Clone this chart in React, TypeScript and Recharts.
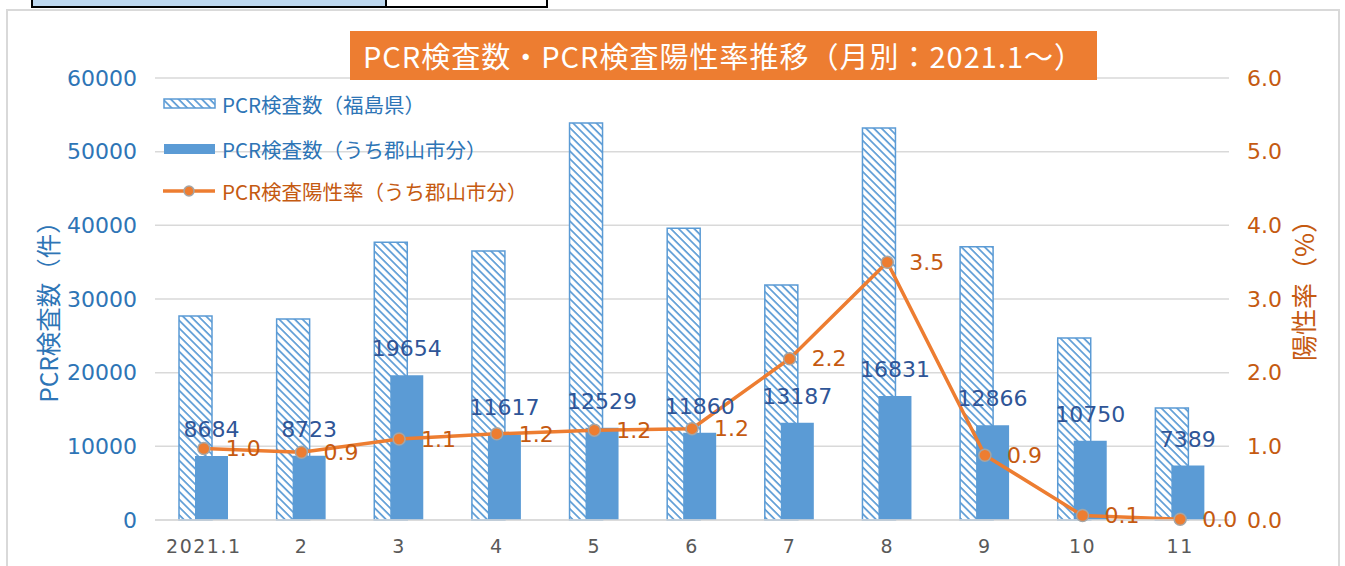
import {
  Bar,
  CartesianGrid,
  ComposedChart,
  LabelList,
  Line,
  XAxis,
  YAxis,
} from "recharts";

const months = ["2021.1", "2", "3", "4", "5", "6", "7", "8", "9", "10", "11"];
const prefTests = [27700, 27300, 37700, 36500, 53900, 39600, 31900, 53200, 37100, 24700, 15200];
const cityTests = [8684, 8723, 19654, 11617, 12529, 11860, 13187, 16831, 12866, 10750, 7389];
const positiveRate = [0.97, 0.92, 1.1, 1.17, 1.22, 1.24, 2.19, 3.5, 0.88, 0.06, 0.01];

const countTicks = [0, 10000, 20000, 30000, 40000, 50000, 60000];
const rateTicks = [0, 1, 2, 3, 4, 5, 6];

const chartData = months.map((m, i) => ({
  month: m,
  pref: prefTests[i],
  city: cityTests[i],
  rate: positiveRate[i],
}));

const BLUE = "#5b9bd5";
const ORANGE = "#ed7d31";
const FONT = '"Noto Sans CJK JP", "Noto Sans", sans-serif';
const NUM_FONT = '"DejaVu Sans", "Noto Sans CJK JP", sans-serif';

const App = () => {
  return (
    <div
      style={{
        position: "absolute",
        left: 0,
        top: 0,
        width: 1345,
        height: 566,
        overflow: "hidden",
        background: "#fff",
        fontFamily: FONT,
      }}
    >
      {/* cut-off box above the chart */}
      <div
        style={{
          position: "absolute",
          left: 31,
          top: -4,
          width: 513,
          height: 8,
          border: "2px solid #000",
          display: "flex",
        }}
      >
        <div style={{ width: 352, background: "#bdd7ee", borderRight: "2px solid #000" }} />
        <div style={{ flex: 1, background: "#fff" }} />
      </div>
      {/* chart frame */}
      <div
        style={{
          position: "absolute",
          left: 6,
          top: 9,
          width: 1330,
          height: 600,
          border: "2px solid #d9d9d9",
        }}
      />

      <ComposedChart
        width={1345}
        height={566}
        data={chartData}
        barGap={-17}
        margin={{ top: 78, right: 46, bottom: 0, left: 20 }}
        style={{ position: "absolute", left: 0, top: 0, fontFamily: NUM_FONT }}
      >
        <defs>
          <pattern
            id="hatch"
            patternUnits="userSpaceOnUse"
            width="5.5"
            height="5.5"
            patternTransform="rotate(45)"
          >
            <rect width="5.5" height="5.5" fill="#fff" />
            <rect width="5.5" height="1.7" fill={BLUE} />
          </pattern>
        </defs>
        <CartesianGrid
          yAxisId="left"
          vertical={false}
          stroke="#d9d9d9"
          strokeWidth={1.5}
        />
        <XAxis
          dataKey="month"
          height={46}
          tickLine={false}
          axisLine={{ stroke: "#d9d9d9", strokeWidth: 1.5 }}
          tickMargin={14}
          tick={{ fontSize: 19, fill: "#595959", letterSpacing: 1.5 }}
          interval={0}
        />
        <YAxis
          yAxisId="left"
          width={135}
          domain={[0, 60000]}
          ticks={countTicks}
          tickLine={false}
          axisLine={false}
          tickMargin={12}
          tick={{ fontSize: 22, fill: "#2e75b6" }}
        />
        <YAxis
          yAxisId="right"
          orientation="right"
          width={70}
          domain={[0, 6]}
          ticks={rateTicks}
          tickLine={false}
          axisLine={false}
          tickMargin={12}
          tickFormatter={(v: number) => v.toFixed(1)}
          tick={{ fontSize: 22, fill: "#c55a11" }}
        />
        <Bar
          yAxisId="left"
          dataKey="pref"
          barSize={33}
          fill="url(#hatch)"
          stroke={BLUE}
          strokeWidth={1.5}
          isAnimationActive={false}
        />
        <Bar
          yAxisId="left"
          dataKey="city"
          barSize={33}
          fill={BLUE}
          isAnimationActive={false}
        >
          <LabelList
            dataKey="city"
            position="top"
            offset={19}
            fill="#2f5597"
            fontSize={22}
          />
        </Bar>
        <Line
          yAxisId="right"
          dataKey="rate"
          stroke={ORANGE}
          strokeWidth={3.5}
          dot={{ r: 6, fill: ORANGE, stroke: "#a5a5a5", strokeWidth: 1.5 }}
          isAnimationActive={false}
        >
          <LabelList
            dataKey="rate"
            position="right"
            offset={22}
            fill="#c55a11"
            fontSize={22}
            formatter={(v: number) => v.toFixed(1)}
          />
        </Line>
      </ComposedChart>

      {/* axis titles */}
      <svg
        width={1345}
        height={566}
        style={{ position: "absolute", left: 0, top: 0, pointerEvents: "none" }}
      >
        <text
          x={47}
          y={306}
          transform="rotate(-90 47 306)"
          textAnchor="middle"
          dominantBaseline="central"
          fill="#2e75b6"
          fontSize={24.5}
          fontFamily={FONT}
        >
          PCR検査数（件）
        </text>
        <text
          x={1302}
          y={284}
          transform="rotate(-90 1302 284)"
          textAnchor="middle"
          dominantBaseline="central"
          fill="#c55a11"
          fontSize={26}
          fontFamily={FONT}
        >
          陽性率（%）
        </text>
      </svg>

      {/* title */}
      <div
        style={{
          position: "absolute",
          left: 350,
          top: 31,
          width: 747,
          height: 49,
          background: ORANGE,
          color: "#fff",
          fontSize: 29,
          letterSpacing: 1,
          lineHeight: "49px",
          textAlign: "center",
          whiteSpace: "nowrap",
        }}
      >
        PCR検査数・PCR検査陽性率推移（月別：2021.1～）
      </div>

      {/* legend */}
      <div style={{ position: "absolute", left: 163, top: 90, fontSize: 20.5 }}>
        <div style={{ display: "flex", alignItems: "center", height: 28, color: "#2e75b6" }}>
          <svg width={54} height={12} style={{ marginRight: 5 }}>
            <rect x={1} y={1} width={51} height={9} fill="url(#hatch)" stroke={BLUE} strokeWidth={1.5} />
          </svg>
          PCR検査数（福島県）
        </div>
        <div style={{ display: "flex", alignItems: "center", height: 28, marginTop: 17, color: "#2e75b6" }}>
          <svg width={54} height={12} style={{ marginRight: 5 }}>
            <rect x={1} y={1} width={51} height={10} fill={BLUE} />
          </svg>
          PCR検査数（うち郡山市分）
        </div>
        <div style={{ display: "flex", alignItems: "center", height: 28, marginTop: 14, color: "#c55a11" }}>
          <svg width={54} height={14} style={{ marginRight: 5 }}>
            <line x1={0} y1={7} x2={52} y2={7} stroke={ORANGE} strokeWidth={3.5} />
            <circle cx={26} cy={7} r={5} fill={ORANGE} stroke="#a5a5a5" strokeWidth={1.5} />
          </svg>
          PCR検査陽性率（うち郡山市分）
        </div>
      </div>
    </div>
  );
};

export default App;
